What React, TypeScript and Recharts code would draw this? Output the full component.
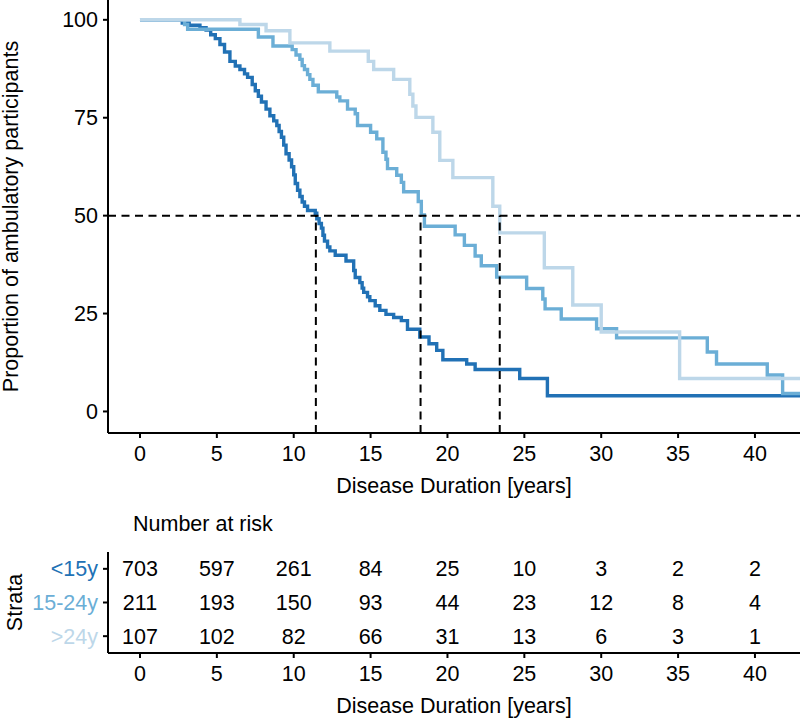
import React from 'react';
import {
  LineChart, Line, XAxis, YAxis, ReferenceLine, Label,
  ScatterChart, Scatter,
} from 'recharts';

const FONT = '"Liberation Sans", Arial, Helvetica, sans-serif';

// ---- Survival curves (time in years, proportion in %) ----
const strataNames = ['<15y', '15-24y', '>24y'];
const strataColors = ['#2171b5', '#6baed6', '#bdd7e9'];

const survLt15 = [
  { t: 0, s: 100 }, { t: 2.75, s: 99.2 }, { t: 3.2, s: 98.6 }, { t: 3.9, s: 98.0 },
  { t: 4.3, s: 97.4 }, { t: 4.6, s: 96.2 }, { t: 4.9, s: 95.2 }, { t: 5.2, s: 93.7 },
  { t: 5.5, s: 91.8 }, { t: 5.85, s: 89.4 }, { t: 6.2, s: 88.2 }, { t: 6.5, s: 87.3 },
  { t: 6.8, s: 86.2 }, { t: 7.0, s: 85.3 }, { t: 7.3, s: 83.5 }, { t: 7.5, s: 81.9 },
  { t: 7.7, s: 80.5 }, { t: 7.9, s: 79.0 }, { t: 8.2, s: 77.2 }, { t: 8.45, s: 75.5 },
  { t: 8.7, s: 74.2 }, { t: 8.9, s: 73.0 }, { t: 9.05, s: 71.5 }, { t: 9.2, s: 70.0 },
  { t: 9.35, s: 68.0 }, { t: 9.5, s: 65.8 }, { t: 9.7, s: 64.2 }, { t: 9.86, s: 62.5 },
  { t: 10.0, s: 60.4 }, { t: 10.1, s: 58.2 }, { t: 10.25, s: 56.5 }, { t: 10.4, s: 54.9 },
  { t: 10.55, s: 53.5 }, { t: 10.7, s: 52.4 }, { t: 10.9, s: 51.3 }, { t: 11.4, s: 50.6 },
  { t: 11.5, s: 49.2 }, { t: 11.65, s: 48.0 }, { t: 11.8, s: 46.8 }, { t: 11.9, s: 45.0 },
  { t: 12.0, s: 43.5 }, { t: 12.2, s: 42.0 }, { t: 12.35, s: 41.0 }, { t: 12.7, s: 39.9 },
  { t: 13.4, s: 38.4 }, { t: 13.9, s: 36.0 }, { t: 14.0, s: 34.2 }, { t: 14.3, s: 32.9 },
  { t: 14.45, s: 31.5 }, { t: 14.55, s: 30.4 }, { t: 14.8, s: 29.3 }, { t: 14.95, s: 28.3 },
  { t: 15.3, s: 27.0 }, { t: 15.6, s: 25.8 }, { t: 16.0, s: 24.8 }, { t: 16.5, s: 24.0 },
  { t: 17.0, s: 23.2 }, { t: 17.4, s: 21.0 }, { t: 18.2, s: 19.0 }, { t: 18.8, s: 17.3 },
  { t: 19.3, s: 15.6 }, { t: 19.7, s: 13.2 }, { t: 21.25, s: 12.1 }, { t: 21.8, s: 10.7 },
  { t: 24.7, s: 8.4 }, { t: 26.5, s: 4.0 }, { t: 42.93, s: 4.0 },
];

const surv15to24 = [
  { t: 0, s: 100 }, { t: 2.9, s: 98.8 }, { t: 3.1, s: 97.6 }, { t: 7.7, s: 95.6 },
  { t: 8.65, s: 93.3 }, { t: 9.9, s: 92.4 }, { t: 10.15, s: 91.0 }, { t: 10.4, s: 89.9 },
  { t: 10.55, s: 88.3 }, { t: 10.7, s: 87.3 }, { t: 10.9, s: 86.0 }, { t: 11.05, s: 84.8 },
  { t: 11.25, s: 83.3 }, { t: 11.6, s: 81.6 }, { t: 12.8, s: 80.3 }, { t: 13.0, s: 79.3 },
  { t: 13.5, s: 77.2 }, { t: 14.0, s: 76.0 }, { t: 14.15, s: 73.0 }, { t: 15.0, s: 71.3 },
  { t: 15.4, s: 69.6 }, { t: 15.8, s: 66.2 }, { t: 16.0, s: 64.4 }, { t: 16.1, s: 62.0 },
  { t: 16.7, s: 60.3 }, { t: 17.0, s: 58.5 }, { t: 17.15, s: 56.1 }, { t: 18.1, s: 53.6 },
  { t: 18.3, s: 50.2 }, { t: 18.5, s: 47.3 }, { t: 20.5, s: 45.1 }, { t: 21.1, s: 42.4 },
  { t: 21.8, s: 39.7 }, { t: 22.2, s: 37.2 }, { t: 23.2, s: 34.3 }, { t: 25.15, s: 31.4 },
  { t: 26.2, s: 28.7 }, { t: 26.35, s: 26.2 }, { t: 27.4, s: 23.6 }, { t: 29.7, s: 21.1 },
  { t: 31.0, s: 18.8 }, { t: 36.9, s: 15.2 }, { t: 37.5, s: 12.1 }, { t: 40.8, s: 9.3 },
  { t: 41.8, s: 4.6 }, { t: 42.93, s: 4.6 },
];

const survGt24 = [
  { t: 0, s: 100 }, { t: 6.5, s: 98.8 }, { t: 8.2, s: 97.2 }, { t: 9.75, s: 94.1 },
  { t: 12.35, s: 92.0 }, { t: 14.85, s: 89.4 }, { t: 15.2, s: 87.3 }, { t: 16.5, s: 84.8 },
  { t: 17.55, s: 81.0 }, { t: 17.75, s: 78.0 }, { t: 17.95, s: 75.1 }, { t: 19.05, s: 71.3 },
  { t: 19.5, s: 64.1 }, { t: 20.35, s: 59.7 }, { t: 22.95, s: 52.4 }, { t: 23.4, s: 45.6 },
  { t: 26.3, s: 36.7 }, { t: 28.15, s: 27.2 }, { t: 30.0, s: 20.3 }, { t: 35.1, s: 8.4 },
  { t: 42.93, s: 8.4 },
];

const medianTimes = [11.44, 18.25, 23.4];

// ---- Number at risk ----
const riskTimes = [0, 5, 10, 15, 20, 25, 30, 35, 40];
const riskLt15 = [703, 597, 261, 84, 25, 10, 3, 2, 2];
const risk15to24 = [211, 193, 150, 93, 44, 23, 12, 8, 4];
const riskGt24 = [107, 102, 82, 66, 31, 13, 6, 3, 1];

const xTicks = [0, 5, 10, 15, 20, 25, 30, 35, 40];
const yTicks = [0, 25, 50, 75, 100];
const X_DOMAIN: [number, number] = [-2.08, 42.93];
const Y_DOMAIN: [number, number] = [-5.5, 105.06];

const FS = 21.5;
const tickStyle = { fill: '#000', fontSize: FS, fontFamily: FONT };
const axisStyle = { stroke: '#000', strokeWidth: 2 };
const dash = '8 5.5';

const survSeries = [survLt15, surv15to24, survGt24];
const riskSeries = [riskLt15, risk15to24, riskGt24];

const xTitle = 'Disease Duration [years]';

function XTitle(props: any) {
  const vb = props.viewBox || { x: 108, y: 433, width: 692, height: 67 };
  return (
    <text x={vb.x + vb.width / 2} y={vb.y + 60} textAnchor="middle" fill="#000"
      fontSize={FS} fontFamily={FONT}>{xTitle}</text>
  );
}

function YTitleMain(props: any) {
  const vb = props.viewBox || { x: 0, y: 0, width: 108, height: 433 };
  return (
    <text transform={`translate(18, ${vb.y + vb.height / 2}) rotate(-90)`} textAnchor="middle"
      fill="#000" fontSize={FS} fontFamily={FONT}>Proportion of ambulatory participants</text>
  );
}

function YTitleRisk(props: any) {
  const vb = props.viewBox || { x: 0, y: 52, width: 108, height: 101 };
  return (
    <text transform={`translate(22, ${vb.y + vb.height / 2}) rotate(-90)`} textAnchor="middle"
      fill="#000" fontSize={FS} fontFamily={FONT}>Strata</text>
  );
}

function StrataTick(props: any) {
  const { x, y, payload } = props;
  const idx = Math.round(payload.value) - 1;
  return (
    <text x={x} y={y} dy="0.355em" textAnchor="end" fill={strataColors[idx]}
      fontSize={FS} fontFamily={FONT}>{strataNames[idx]}</text>
  );
}

function RiskText(props: any) {
  const { cx, cy, payload } = props;
  return (
    <text x={cx} y={cy} dy="0.355em" textAnchor="middle" fill="#000"
      fontSize={FS} fontFamily={FONT}>{payload.n}</text>
  );
}

export default function App() {
  return (
    <div style={{ position: 'absolute', left: 0, top: 0, width: 800, height: 721, background: '#fff', overflow: 'hidden' }}>
      <div style={{ position: 'absolute', left: 0, top: 0 }}>
        <LineChart width={800} height={500} margin={{ top: 0, right: 0, bottom: 0, left: 0 }}>
          <XAxis type="number" dataKey="t" domain={X_DOMAIN} allowDataOverflow ticks={xTicks}
            tickSize={5} tickMargin={8} tick={tickStyle} axisLine={axisStyle} tickLine={axisStyle} height={67}>
            <Label content={<XTitle />} />
          </XAxis>
          <YAxis type="number" dataKey="s" domain={Y_DOMAIN} allowDataOverflow ticks={yTicks}
            tickSize={5} tickMargin={5} tick={tickStyle} axisLine={axisStyle} tickLine={axisStyle} width={108}>
            <Label content={<YTitleMain />} />
          </YAxis>
          {survSeries.map((d, i) => (
            <Line key={strataNames[i]} data={d} dataKey="s" type="stepAfter" stroke={strataColors[i]}
              strokeWidth={3.4} dot={false} activeDot={false} isAnimationActive={false} />
          ))}
          <ReferenceLine y={50} stroke="#000" strokeWidth={2} strokeDasharray={dash} />
          {medianTimes.map((m) => (
            <ReferenceLine key={m} segment={[{ x: m, y: Y_DOMAIN[0] }, { x: m, y: 50 }]}
              stroke="#000" strokeWidth={2} strokeDasharray={dash} />
          ))}
        </LineChart>
      </div>
      <div style={{ position: 'absolute', left: 133, top: 514, fontSize: FS, lineHeight: '21px', fontFamily: FONT, color: '#000', whiteSpace: 'nowrap' }}>
        Number at risk
      </div>
      <div style={{ position: 'absolute', left: 0, top: 500 }}>
        <ScatterChart width={800} height={221} margin={{ top: 52, right: 0, bottom: 0, left: 0 }}>
          <XAxis type="number" dataKey="t" domain={X_DOMAIN} allowDataOverflow ticks={xTicks}
            tickSize={5} tickMargin={8} tick={tickStyle} axisLine={axisStyle} tickLine={axisStyle} height={68}>
            <Label content={<XTitle />} />
          </XAxis>
          <YAxis type="number" dataKey="row" domain={[0.5, 3.5]} reversed ticks={[1, 2, 3]}
            tickSize={5} tickMargin={5} tick={<StrataTick />} axisLine={axisStyle} tickLine={axisStyle} width={108}>
            <Label content={<YTitleRisk />} />
          </YAxis>
          {riskSeries.map((r, k) => (
            <Scatter key={strataNames[k]}
              data={riskTimes.map((t, i) => ({ t, row: k + 1, n: r[i] }))}
              shape={<RiskText />} isAnimationActive={false} />
          ))}
        </ScatterChart>
      </div>
    </div>
  );
}
